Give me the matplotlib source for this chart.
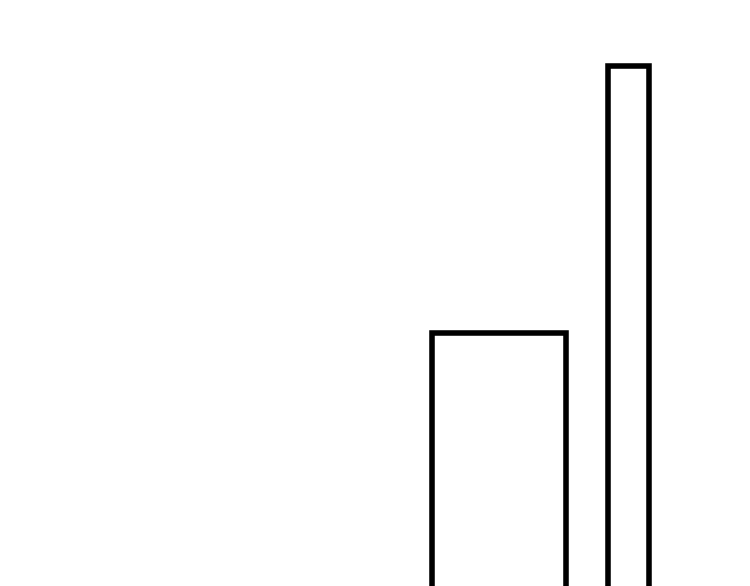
import matplotlib
matplotlib.use("Agg")
import matplotlib.pyplot as plt

# data
categories = ["A", "B"]
values = [48.7, 100.0]

# layout
positions = [4.99, 6.285]
widths = [1.34, 0.41]

fig = plt.figure(figsize=(7.5, 5.86), dpi=100)
ax = fig.add_axes([0, 0, 1, 1])
ax.bar(positions, [v + 5 for v in values], width=widths, bottom=-5,
       facecolor="white", edgecolor="black", linewidth=4)
ax.set_xlim(0, 7.5)
ax.set_ylim(0, 100 * 586 / 520)
ax.axis("off")
fig.savefig("out.png", dpi=100)
